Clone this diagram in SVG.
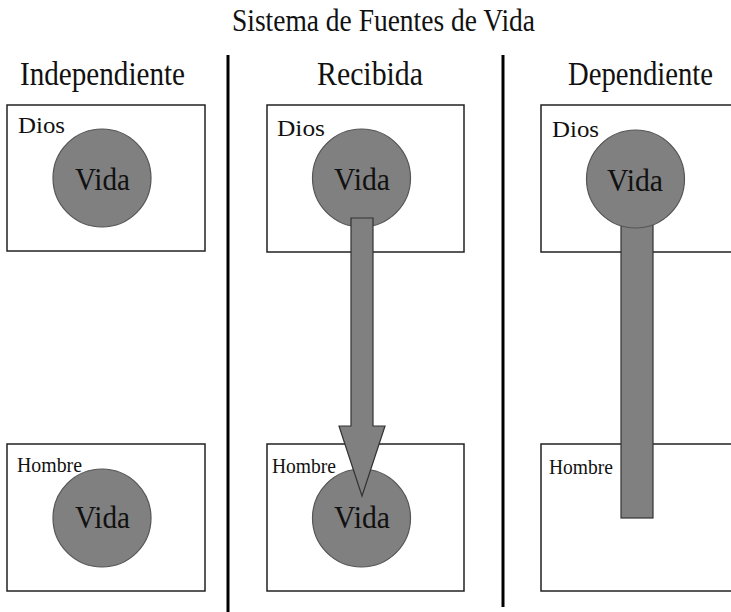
<svg xmlns="http://www.w3.org/2000/svg" width="731" height="612" viewBox="0 0 731 612">
<style>
text{font-family:'Liberation Serif','DejaVu Serif','Times New Roman',Times,serif;fill:#111;}
.title{font-size:27.3px;}
.head{font-size:29px;}
.lab{font-size:23px;}
.hom{font-size:20px;}
.vida{font-size:32px;}
.box{fill:#fff;stroke:#222;stroke-width:1.5;}
.circ{fill:#808080;stroke:#555;stroke-width:1.2;}
.conn{fill:#808080;stroke:#333;stroke-width:1.2;}
.sep{stroke:#000;stroke-width:3;}
</style>
<rect width="731" height="612" fill="#fff"/>
<g font-family="Liberation Serif, DejaVu Serif, serif">
<text class="title" transform="translate(232,31) scale(1,1.16)" textLength="303" lengthAdjust="spacingAndGlyphs">Sistema de Fuentes de Vida</text>
<text class="head" transform="translate(20,85) scale(1,1.14)" textLength="165" lengthAdjust="spacingAndGlyphs">Independiente</text>
<text class="head" transform="translate(317,85) scale(1,1.14)" textLength="106" lengthAdjust="spacingAndGlyphs">Recibida</text>
<text class="head" transform="translate(568,85) scale(1,1.14)" textLength="145" lengthAdjust="spacingAndGlyphs">Dependiente</text>
</g>
<g id="separators">
<line class="sep" x1="228" y1="55" x2="228" y2="612"/>
<line class="sep" x1="503" y1="55" x2="503" y2="607"/>
</g>
<g id="dios-independiente" font-family="Liberation Serif, DejaVu Serif, serif">
<rect class="box" x="7" y="105" width="198" height="146"/>
<text class="lab" x="18" y="133" textLength="47" lengthAdjust="spacingAndGlyphs">Dios</text>
</g>
<g id="hombre-independiente" font-family="Liberation Serif, DejaVu Serif, serif">
<rect class="box" x="7" y="444" width="198" height="147"/>
<text class="hom" x="17" y="472" textLength="65" lengthAdjust="spacingAndGlyphs">Hombre</text>
</g>
<g id="dios-recibida" font-family="Liberation Serif, DejaVu Serif, serif">
<rect class="box" x="267" y="105" width="197" height="147"/>
<text class="lab" x="277" y="136" textLength="48" lengthAdjust="spacingAndGlyphs">Dios</text>
</g>
<g id="hombre-recibida" font-family="Liberation Serif, DejaVu Serif, serif">
<rect class="box" x="267" y="444" width="197" height="147"/>
<text class="hom" x="272" y="473" textLength="64" lengthAdjust="spacingAndGlyphs">Hombre</text>
</g>
<g id="dios-dependiente" font-family="Liberation Serif, DejaVu Serif, serif">
<rect class="box" x="541" y="105" width="200" height="147"/>
<text class="lab" x="552" y="137" textLength="47" lengthAdjust="spacingAndGlyphs">Dios</text>
</g>
<g id="hombre-dependiente" font-family="Liberation Serif, DejaVu Serif, serif">
<rect class="box" x="541" y="444" width="200" height="147"/>
<text class="hom" x="549" y="474" textLength="64" lengthAdjust="spacingAndGlyphs">Hombre</text>
</g>
<g id="vida-dios-independiente" font-family="Liberation Serif, DejaVu Serif, serif">
<circle class="circ" cx="102" cy="178" r="49"/>
<text class="vida" x="75" y="190" textLength="55" lengthAdjust="spacingAndGlyphs">Vida</text>
</g>
<g id="vida-hombre-independiente" font-family="Liberation Serif, DejaVu Serif, serif">
<circle class="circ" cx="102" cy="518" r="49"/>
<text class="vida" x="75" y="528" textLength="55" lengthAdjust="spacingAndGlyphs">Vida</text>
</g>
<g id="vida-dios-recibida" font-family="Liberation Serif, DejaVu Serif, serif">
<circle class="circ" cx="361.5" cy="178" r="49"/>
<text class="vida" x="334" y="190" textLength="56" lengthAdjust="spacingAndGlyphs">Vida</text>
</g>
<g id="vida-hombre-recibida" font-family="Liberation Serif, DejaVu Serif, serif">
<circle class="circ" cx="361.5" cy="518" r="49"/>
<text class="vida" x="334" y="528" textLength="56" lengthAdjust="spacingAndGlyphs">Vida</text>
</g>
<g id="connectors">
<polygon class="conn" points="351,218 373,218 373,426 385,426 362,496 339,426 351,426"/>
<rect class="conn" x="621" y="200" width="32" height="318"/>
</g>
<g id="vida-dios-dependiente" font-family="Liberation Serif, DejaVu Serif, serif">
<circle class="circ" cx="635.5" cy="179" r="49"/>
<text class="vida" x="607" y="191" textLength="56" lengthAdjust="spacingAndGlyphs">Vida</text>
</g>
</svg>
